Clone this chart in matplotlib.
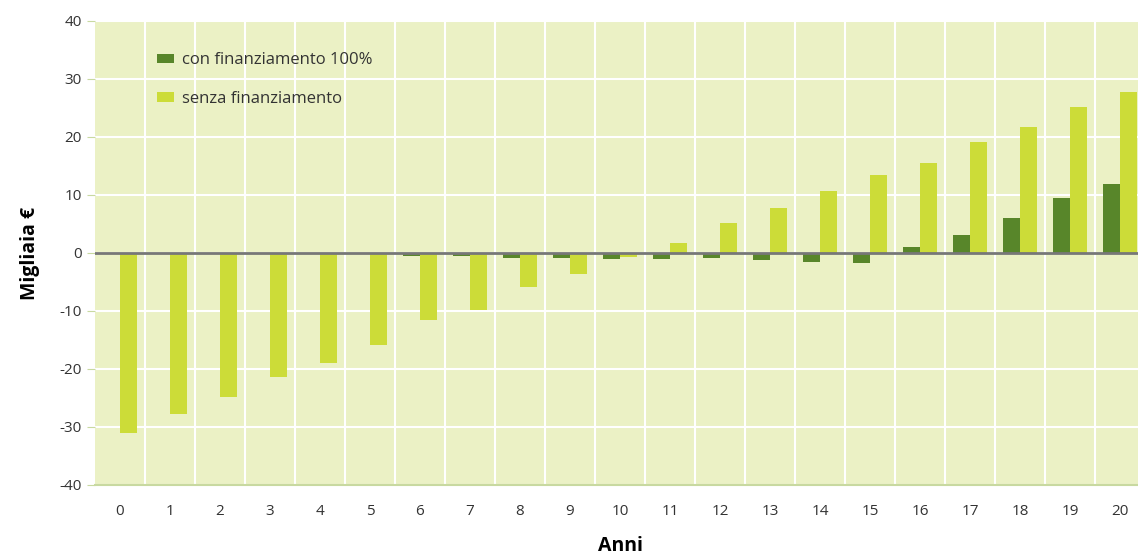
import numpy as np
import matplotlib.pyplot as plt

anni = list(range(21))
con_finanziamento = [0, 0, 0, 0, 0, 0, -0.5, -0.5, -0.8, -0.8, -1.0, -1.1, -0.9, -1.2,
                     -1.6, -1.8, 1.0, 3.1, 6.0, 9.5, 11.9]
senza_finanziamento = [-31.0, -27.8, -24.8, -21.4, -19.0, -15.9, -11.6, -9.8, -5.9, -3.6,
                       -0.7, 1.7, 5.2, 7.8, 10.7, 13.4, 15.5, 19.1, 21.7, 25.2, 27.8]

dark = '#58862a'
light = '#ccdc38'
bg = '#ebf1c5'

plt.rcParams['font.family'] = ['Open Sans', 'DejaVu Sans']
plt.rcParams['axes.unicode_minus'] = False

fig = plt.figure(figsize=(11.38, 5.59), dpi=100)
ax = fig.add_axes([95 / 1138, 74 / 559, 1050 / 1138, 464 / 559])
ax.set_facecolor(bg)

x = np.array(anni)
w = 0.34
ax.bar(x - w / 2, con_finanziamento, w, color=dark, label='con finanziamento 100%', zorder=3)
ax.bar(x + w / 2, senza_finanziamento, w, color=light, label='senza finanziamento', zorder=3)
ax.axhline(0, color='#777777', lw=2, zorder=4)

ax.set_xlim(-0.5, 20.5)
ax.set_ylim(-40, 40)
ax.set_yticks(range(-40, 41, 10))
ax.set_xticks(anni)
ax.set_xticks(np.arange(0.5, 20, 1), minor=True)
ax.grid(True, which='minor', axis='x', color='white', lw=1.5, zorder=1)
ax.grid(True, which='major', axis='y', color='white', lw=1.5, zorder=1)
ax.tick_params(axis='x', which='both', length=0, labelsize=11, pad=14, colors='#333333')
ax.tick_params(axis='y', length=6, color='#c8d9a0', labelsize=11, colors='#333333')

for s in ['top', 'right', 'left']:
    ax.spines[s].set_visible(False)
ax.spines['bottom'].set_color('#c8d9a0')
ax.spines['bottom'].set_linewidth(1.5)

ax.set_xlabel('Anni', fontsize=14, fontweight='bold', labelpad=12)
ax.set_ylabel('Migliaia €', fontsize=14, fontweight='bold', labelpad=14)

leg = ax.legend(loc='upper left', bbox_to_anchor=(0.045, 0.965), frameon=False, fontsize=12,
                handlelength=1.0, handleheight=0.5, labelspacing=1.35, handletextpad=0.5)
for t in leg.get_texts():
    t.set_color('#333333')

fig.savefig('out.png', dpi=100)
